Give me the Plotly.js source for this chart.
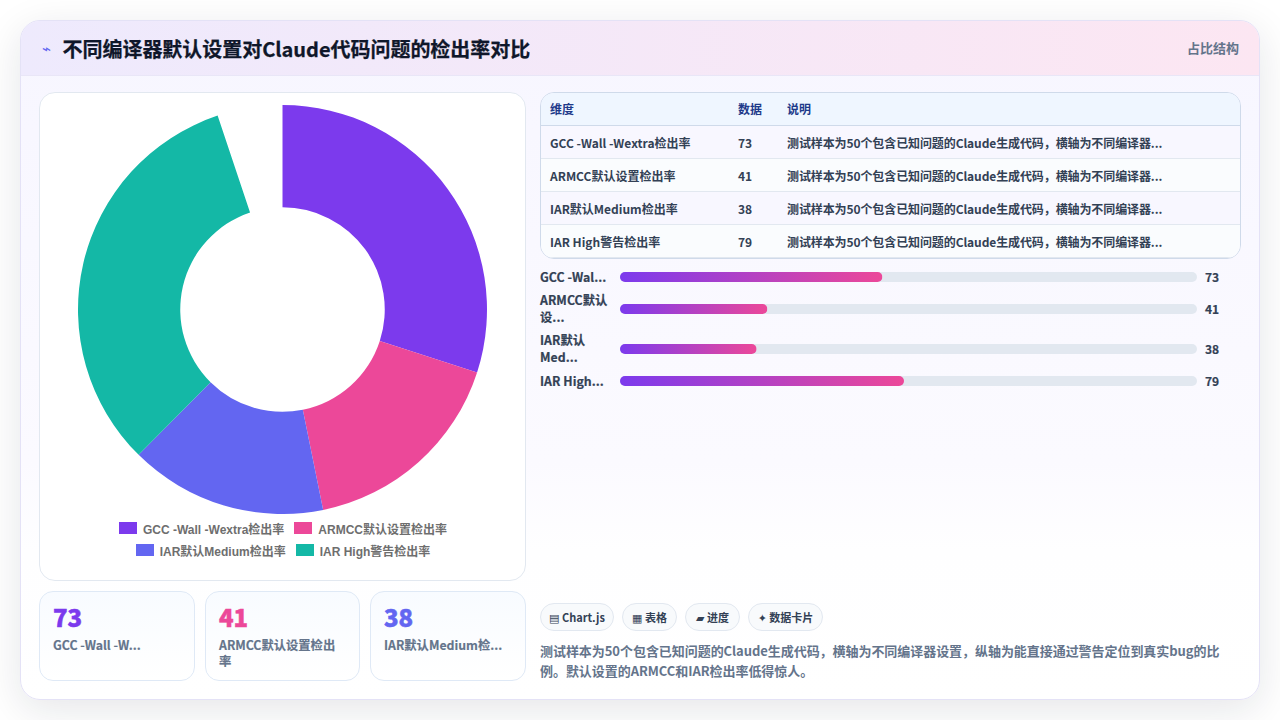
<!DOCTYPE html>
<html lang="zh-CN"><head><meta charset="utf-8">
<script src="https://cdn.plot.ly/plotly-3.0.1.min.js"></script>
<style>
*{box-sizing:border-box;margin:0;padding:0}
html,body{width:1280px;height:720px;overflow:hidden;background:#fff;font-family:"Noto Sans CJK SC","Noto Sans",sans-serif}
#card{position:absolute;left:20px;top:20px;width:1240px;height:680px;border-radius:20px;border:1px solid #e4e2f6;overflow:hidden;background:linear-gradient(180deg,#f7f6ff 0%,#fbfaff 65%,#fefeff 78%,#fff 100%)}
#shadow{position:absolute;left:20px;top:20px;width:1240px;height:680px;border-radius:20px;box-shadow:0 10px 40px rgba(15,23,42,.11)}
#head{position:absolute;left:0;top:0;width:100%;height:55px;background:linear-gradient(90deg,#eeeafd,#fce6f2);border-bottom:1px solid #e9e6f7}
#ttl{position:absolute;left:41.5px;top:12px;font-size:20px;font-weight:700;line-height:32px;color:#0f172a;white-space:nowrap;-webkit-text-stroke:.25px #0f172a;letter-spacing:-.03px}
#ico{position:absolute;left:21px;top:12px;font-family:"DejaVu Sans",sans-serif;font-size:15px;line-height:32px;color:#6366f1}
#tag{position:absolute;right:20px;top:15px;font-size:13px;font-weight:700;line-height:24px;color:#64748b}
.abs{position:absolute}
#panel{left:18px;top:71px;width:487px;height:489px;background:#fff;border:1px solid #e2e8f0;border-radius:16px}
#pie{left:57px;top:83.5px;width:409px;height:409px}
#legend{left:37px;top:496px;width:450px;font-family:"Liberation Sans","Noto Sans CJK SC",sans-serif;font-size:12px;font-weight:700;color:#6e6e6e}
.lr{display:flex;justify-content:center;height:22px;align-items:center}
.li{display:flex;align-items:center;margin:0 5px}
.sw{width:18px;height:12px;margin-right:6px}
.kpi{top:570px;height:90px;background:linear-gradient(180deg,#f8fbff,#fff);border:1px solid #dfe9f6;border-radius:14px;padding:10px 13px}
.kv{font-size:24px;font-weight:900;line-height:30px;-webkit-text-stroke:.5px currentColor}
.kl{font-size:12.3px;font-weight:700;line-height:16px;color:#64748b;margin-top:5px;-webkit-text-stroke:.15px #64748b}
#tb{left:519px;top:71px;width:701px;height:167px;border:1px solid #cfdaea;border-radius:14px;overflow:hidden}
.tr{position:absolute;left:0;width:100%;height:33px;border-bottom:1px solid #e2e8f0;font-size:12px;font-weight:700;color:#334155;line-height:33px}
.tr.hd{line-height:32px}
.tr span{position:absolute;white-space:nowrap}
.tr span.note{letter-spacing:-.1px}
#bars{left:519px;top:241px;width:701px;height:140px}
#bars .annotation-text{stroke:#334155;stroke-width:.2px}
.bl{position:absolute;left:519px;transform:translateY(-50%);font-size:12.3px;letter-spacing:.05px;font-weight:700;line-height:17px;color:#334155;white-space:nowrap;-webkit-text-stroke:.2px #334155}
.chip{position:absolute;top:582px;height:28px;border:1px solid #e2e8f0;border-radius:14px;background:#f8fafc;font-size:11px;font-weight:700;line-height:26px;color:#334155;text-align:center;white-space:nowrap}
.chip i{font-family:"DejaVu Sans",sans-serif;font-style:normal;font-size:11px;font-weight:700}
#desc{left:519px;top:620px;width:685px;font-size:13px;font-weight:700;line-height:20px;color:#64748b;letter-spacing:-.05px}
</style></head><body>
<div id="shadow"></div>
<div id="card">
 <div id="head"><div id="ico">⌁</div><div id="ttl"></div><div id="tag"></div></div>
 <div id="panel" class="abs"></div>
 <div id="pie" class="abs"></div>
 <div id="legend" class="abs"></div>
 <div id="kpis"></div>
 <div id="tb" class="abs"></div>
 <div id="bars" class="abs"></div>
 <div id="barLabels"></div>
 <div id="chips"></div>
 <div id="desc" class="abs"></div>
</div>
<script>
const chartTitle = "不同编译器默认设置对Claude代码问题的检出率对比";
const tagText = "占比结构";
const categories = ["GCC -Wall -Wextra检出率","ARMCC默认设置检出率","IAR默认Medium检出率","IAR High警告检出率"];
const values = [73,41,38,79];
const colors = ["#7c3aed","#ec4899","#6366f1","#14b8a6"];
const barLabels = ["GCC -Wal...","ARMCC默认<br>设...","IAR默认<br>Med...","IAR High..."];
const kpiLabels = ["GCC -Wall -W...","ARMCC默认设置检出<br>率","IAR默认Medium检..."];
const noteShort = "测试样本为50个包含已知问题的Claude生成代码，横轴为不同编译器...";
const tableHead = ["维度","数据","说明"];
const chipIcons = ["▤","▦","▰","✦"];
const chipTexts = ["Chart.js","表格","进度","数据卡片"];
const description = "测试样本为50个包含已知问题的Claude生成代码，横轴为不同编译器设置，纵轴为能直接通过警告定位到真实bug的比例。默认设置的ARMCC和IAR检出率低得惊人。";
const gapDegrees = 18.5, barAxisMax = 160.5;

const $ = id => document.getElementById(id);
$("ttl").textContent = chartTitle; $("tag").textContent = tagText; $("desc").textContent = description;

// legend (Chart.js-style centred rows)
[[0,1],[2,3]].forEach(r=>{
  const row=document.createElement("div");row.className="lr";
  r.forEach(i=>{row.innerHTML+=`<div class="li"><div class="sw" style="background:${colors[i]}"></div><span>${categories[i]}</span></div>`});
  $("legend").appendChild(row);
});
// KPI cards
[[18,156],[184,155],[349,156]].forEach((g,i)=>{
  const d=document.createElement("div");d.className="abs kpi";d.style.left=g[0]+"px";d.style.width=g[1]+"px";
  d.innerHTML=`<div class="kv" style="color:${colors[i]}">${values[i]}</div><div class="kl">${kpiLabels[i]}</div>`;
  $("kpis").appendChild(d);
});
// table
const rowBg=["#f8f7ff","#fafcfe"];
let h=`<div class="tr hd" style="top:0;background:#eff6ff;color:#1e3a8a;border-bottom:1px solid #cfdaea"><span style="left:9px">${tableHead[0]}</span><span style="left:197px">${tableHead[1]}</span><span style="left:246px">${tableHead[2]}</span></div>`;
categories.forEach((c,i)=>{h+=`<div class="tr" style="top:${33+i*33}px;background:${rowBg[i%2]}"><span style="left:9px">${c}</span><span style="left:197px">${values[i]}</span><span class="note" style="left:246px">${noteShort}</span></div>`});
$("tb").innerHTML=h;
// chips
[[519,74],[601,55],[664,55],[727,75]].forEach((g,i)=>{
  const d=document.createElement("div");d.className="chip";d.style.left=g[0]+"px";d.style.width=g[1]+"px";
  d.innerHTML=`<i>${chipIcons[i]}</i> ${chipTexts[i]}`;
  $("chips").appendChild(d);
});

// donut
const total=values.reduce((a,b)=>a+b,0);
const gapValue=total*gapDegrees/(360-gapDegrees);
Plotly.newPlot("pie",[{type:"pie",labels:categories.concat(["（空白）"]),values:values.concat([gapValue]),
  hole:0.5,sort:false,direction:"clockwise",rotation:0,textinfo:"none",hoverinfo:"label+value",
  marker:{colors:colors.concat(["rgba(0,0,0,0)"]),line:{width:0}}}],
  {width:409,height:409,margin:{l:0,r:0,t:0,b:0},showlegend:false,paper_bgcolor:"rgba(0,0,0,0)"},
  {displayModeBar:false,staticPlot:true});

// progress bars: uneven rows because of two-line labels
const barPlotH=140, axisLeft=80, barsTop=241;
const rowHeights=[24,40,40,24];
let acc=3; const centers=rowHeights.map(rh=>{const c=acc+rh/2;acc+=rh;return c});
const valueFont={size:12,color:"#334155",family:"Noto Sans CJK SC",weight:700};
const ann=[];
categories.forEach((c,i)=>{
  const l=document.createElement("div");l.className="bl";l.style.top=(barsTop+centers[i])+"px";l.innerHTML=barLabels[i];
  $("barLabels").appendChild(l);
  ann.push({xref:"paper",yref:"y",x:1,xshift:6,yshift:1,y:centers[i],xanchor:"left",yanchor:"middle",align:"left",showarrow:false,text:String(values[i]),font:valueFont});
});
Plotly.newPlot("bars",[
 {type:"bar",orientation:"h",y:centers,x:values.map(()=>barAxisMax),width:10,marker:{color:"#e2e8f0",line:{width:0}},hoverinfo:"skip"},
 {type:"bar",orientation:"h",y:centers,x:values,width:10,marker:{color:"#7c3aed",line:{width:0}},hovertext:categories,hoverinfo:"text+x"}],
 {width:701,height:barPlotH,margin:{l:axisLeft,r:44,t:0,b:0},barmode:"overlay",showlegend:false,paper_bgcolor:"rgba(0,0,0,0)",plot_bgcolor:"rgba(0,0,0,0)",
  xaxis:{range:[0,barAxisMax],visible:false,fixedrange:true},yaxis:{range:[barPlotH,0],visible:false,fixedrange:true},annotations:ann},
 {displayModeBar:false,staticPlot:true}).then(gd=>{
   const svg=gd.querySelector(".main-svg");
   const ns="http://www.w3.org/2000/svg";
   const defs=svg.querySelector("defs")||svg.insertBefore(document.createElementNS(ns,"defs"),svg.firstChild);
   const g=document.createElementNS(ns,"linearGradient");g.id="barGrad";g.setAttribute("x1","0");g.setAttribute("x2","1");g.setAttribute("y1","0");g.setAttribute("y2","0");
   [["0","#7c3aed"],["1","#ec4899"]].forEach(s=>{const t=document.createElementNS(ns,"stop");t.setAttribute("offset",s[0]);t.setAttribute("stop-color",s[1]);g.appendChild(t)});
   defs.appendChild(g);
   const traces=gd.querySelectorAll(".trace.bars");
   traces.forEach((tr,k)=>tr.querySelectorAll(".point path").forEach(p=>{
     p.style.clipPath="inset(0 round 5px)";
     if(k===1)p.style.fill="url(#barGrad)";
   }));
 });
</script></body></html>
